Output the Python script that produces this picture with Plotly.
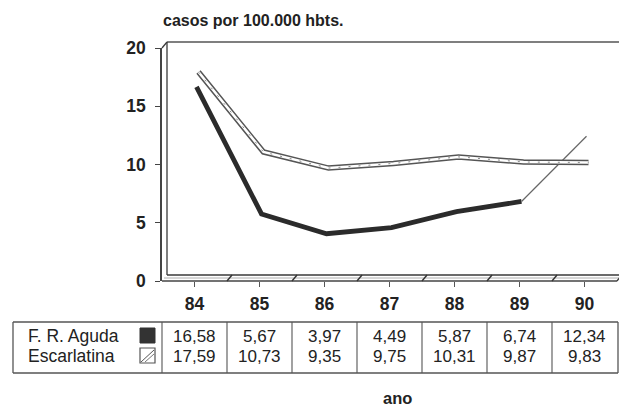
import plotly.graph_objects as go

# dados
anos = ['84', '85', '86', '87', '88', '89', '90']
x_anos = [84, 85, 86, 87, 88, 89, 90]
fr_aguda = [16.58, 5.67, 3.97, 4.49, 5.87, 6.74, 12.34]
escarlatina = [17.59, 10.73, 9.35, 9.75, 10.31, 9.87, 9.83]
series_nomes = ['F. R. Aguda', 'Escarlatina']
y_ticks = [0, 5, 10, 15, 20]

W, H = 627, 409
OFF = 8  # margem do body da página
FONT = 'Liberation Sans, Arial, sans-serif'
LINHA = '#3a3a3a'
TXT = '#222222'


def fx(px):
    return (px - OFF) / W


def fy(py):
    return 1 - (py - OFF) / H


fig = go.Figure()

# F. R. Aguda: linha grossa até 89, fina até 90
fig.add_trace(go.Scatter(x=x_anos[:6], y=fr_aguda[:6], mode='lines',
                         line=dict(color='#2b2b2b', width=4.8),
                         xaxis='x3', yaxis='y3', showlegend=False))
fig.add_trace(go.Scatter(x=x_anos[5:], y=fr_aguda[5:], mode='lines',
                         line=dict(color='#666666', width=1.2),
                         xaxis='x3', yaxis='y3', showlegend=False))
# Escarlatina: fita (contorno + miolo branco)
fig.add_trace(go.Scatter(x=x_anos, y=escarlatina, mode='lines',
                         line=dict(color='#555555', width=5.5),
                         xaxis='x4', yaxis='y4', showlegend=False))
fig.add_trace(go.Scatter(x=x_anos, y=escarlatina, mode='lines',
                         line=dict(color='white', width=2.5),
                         xaxis='x4', yaxis='y4', showlegend=False))
fig.add_trace(go.Scatter(x=x_anos, y=escarlatina, mode='lines',
                         line=dict(color='#888888', width=1, dash='2px,8px'),
                         xaxis='x4', yaxis='y4', showlegend=False))

xr = [83.5, 90.5]
yr = [0, 20]
eixo_oculto = dict(showticklabels=False, showline=False, ticks='', zeroline=False,
                   showgrid=False, automargin=False)
fonte_ticks = dict(size=17.5, family=FONT, weight='bold', color=TXT)

fig.update_layout(
    template='none',
    width=W, height=H, autosize=False,
    margin=dict(l=0, r=0, t=0, b=0, pad=0, autoexpand=False),
    paper_bgcolor='white', plot_bgcolor='rgba(0,0,0,0)',
    font=dict(family=FONT, color=TXT),
    # eixo frontal
    xaxis=dict(domain=[fx(162), fx(617)], range=xr, tickvals=x_anos, ticktext=anos,
               ticks='outside', ticklen=5, tickcolor='#555', showline=False,
               showgrid=False, zeroline=False, ticklabelstandoff=2, automargin=False,
               tickfont=fonte_ticks, anchor='y'),
    yaxis=dict(domain=[fy(281), fy(48)], range=yr, tickvals=y_ticks,
               ticks='outside', ticklen=5, tickcolor='#444', showline=True,
               linecolor='#444', linewidth=1.5, showgrid=False, zeroline=False,
               ticklabelstandoff=6, automargin=False,
               tickfont=fonte_ticks, anchor='x'),
    # parede do fundo (grelha pontilhada)
    xaxis2=dict(domain=[fx(167), fx(622)], range=xr, anchor='y2', **eixo_oculto),
    yaxis2=dict(domain=[fy(275), fy(42)], range=yr, anchor='x2',
                showticklabels=False, showline=False, ticks='', zeroline=False,
                showgrid=True, gridcolor='#c8c8c8', griddash='dot', gridwidth=1.2,
                tickvals=[5, 10, 15], automargin=False),
    # profundidade intermédia para as linhas
    xaxis3=dict(domain=[fx(164), fx(619)], range=xr, anchor='y3', **eixo_oculto),
    yaxis3=dict(domain=[fy(280), fy(47)], range=yr, anchor='x3', **eixo_oculto),
    xaxis4=dict(domain=[fx(166), fx(621)], range=xr, anchor='y4', **eixo_oculto),
    yaxis4=dict(domain=[fy(277), fy(44)], range=yr, anchor='x4', **eixo_oculto),
)

shapes = []


def seg(x0, y0, x1, y1, cor=LINHA, w=1.3):
    shapes.append(dict(type='line', xref='paper', yref='paper',
                       x0=fx(x0), y0=fy(y0), x1=fx(x1), y1=fy(y1),
                       line=dict(color=cor, width=w)))


# parede do fundo
seg(167, 42, 622, 42, '#555', 1.6)
seg(167, 42, 167, 275)
seg(622, 42, 622, 275, '#777', 1.3)
seg(162, 48, 167, 42)
# chão
seg(162, 281, 617, 281, '#444', 1.5)
seg(167, 275, 622, 275)
seg(164, 278, 619, 278, '#999', 0.8)
seg(617, 281, 622, 275)
for k in range(1, 7):
    x0 = 162 + 65 * k
    seg(x0, 281, x0 + 5, 275, '#333', 1.4)

# tabela
seg(13, 322, 618, 322, '#555', 1.3)
seg(13, 373, 618, 373, '#555', 1.3)
seg(13, 322, 13, 373, '#555', 1.3)
seg(618, 322, 618, 373, '#555', 1.3)
for k in range(7):
    xd = 162 + 65 * k
    seg(xd, 322, xd, 373, '#555', 1.1)

# símbolos da legenda
shapes.append(dict(type='rect', xref='paper', yref='paper',
                   x0=fx(140), x1=fx(155), y0=fy(343), y1=fy(328),
                   fillcolor='#333', line=dict(color='#333', width=1)))
shapes.append(dict(type='rect', xref='paper', yref='paper',
                   x0=fx(140), x1=fx(155), y0=fy(363), y1=fy(348),
                   fillcolor='white', line=dict(color='#555', width=1.2)))
seg(141, 362, 154, 350, '#555', 1)
seg(145, 362, 154, 354, '#555', 0.8)

fig.update_layout(shapes=shapes)

annotations = []
linhas_y = [336, 356]
for nome, valores, py in zip(series_nomes, [fr_aguda, escarlatina], linhas_y):
    annotations.append(dict(xref='paper', yref='paper', x=fx(26), y=fy(py),
                            text=nome, showarrow=False, xanchor='left', yanchor='middle',
                            font=dict(size=17.5, family=FONT, color=TXT)))
    for xv, v in zip(x_anos, valores):
        annotations.append(dict(xref='x', yref='paper', x=xv, y=fy(py),
                                text=f'{v:.2f}'.replace('.', ','), showarrow=False,
                                xanchor='center', yanchor='middle',
                                font=dict(size=17, family=FONT, color=TXT)))

annotations.append(dict(xref='paper', yref='paper', x=fx(161), y=fy(20),
                        text='casos por 100.000 hbts.', showarrow=False,
                        xanchor='left', yanchor='middle',
                        font=dict(size=16, family=FONT, weight='bold', color=TXT)))
annotations.append(dict(xref='paper', yref='paper', x=fx(397), y=fy(398),
                        text='ano', showarrow=False, xanchor='center', yanchor='middle',
                        font=dict(size=16.5, family=FONT, weight='bold', color=TXT)))
fig.update_layout(annotations=annotations)

fig.write_html("out.html")
